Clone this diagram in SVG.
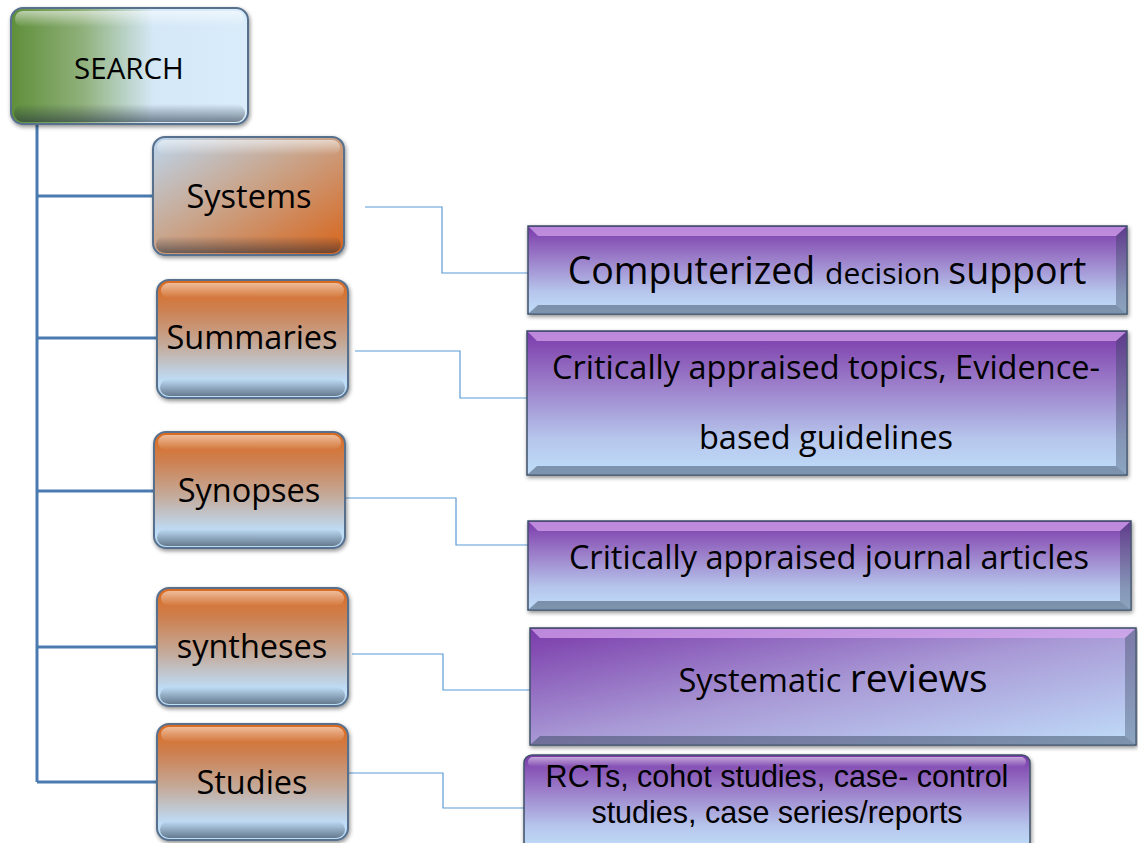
<svg xmlns="http://www.w3.org/2000/svg" width="1138" height="843" viewBox="0 0 1138 843">
<defs>
<linearGradient id="gGreen" x1="0" y1="0" x2="1" y2="0">
<stop offset="0" stop-color="#5f8f3a"/>
<stop offset="0.3" stop-color="#8fb07a"/>
<stop offset="0.6" stop-color="#d4e8f7"/>
<stop offset="1" stop-color="#d9ecfa"/>
</linearGradient>
<linearGradient id="gSys" x1="0" y1="0" x2="1" y2="1">
<stop offset="0" stop-color="#bcd6ee"/>
<stop offset="0.45" stop-color="#c9a58c"/>
<stop offset="1" stop-color="#d8641a"/>
</linearGradient>
<linearGradient id="gOrange" x1="0" y1="0" x2="0" y2="1">
<stop offset="0" stop-color="#dc6a1e"/>
<stop offset="0.25" stop-color="#cd8050"/>
<stop offset="0.55" stop-color="#c4aa9a"/>
<stop offset="0.85" stop-color="#bedcf6"/>
<stop offset="1" stop-color="#bcdcf6"/>
</linearGradient>
<linearGradient id="gPurple" x1="0" y1="0" x2="0" y2="1">
<stop offset="0" stop-color="#7a3aaa"/>
<stop offset="0.35" stop-color="#9a7ac8"/>
<stop offset="0.75" stop-color="#b6c6ec"/>
<stop offset="1" stop-color="#c0defa"/>
</linearGradient>
<linearGradient id="gPurpleDiag" x1="0" y1="0" x2="1" y2="1">
<stop offset="0" stop-color="#7a3aaa"/>
<stop offset="0.5" stop-color="#a99ad6"/>
<stop offset="1" stop-color="#c0defa"/>
</linearGradient>
<linearGradient id="gHi" x1="0" y1="0" x2="0" y2="1">
<stop offset="0" stop-color="#ffffff" stop-opacity="0.55"/>
<stop offset="1" stop-color="#ffffff" stop-opacity="0"/>
</linearGradient>
<linearGradient id="gLo" x1="0" y1="0" x2="0" y2="1">
<stop offset="0" stop-color="#1e2a3a" stop-opacity="0"/>
<stop offset="1" stop-color="#1e2a3a" stop-opacity="0.55"/>
</linearGradient>
<filter id="sh" x="-10%" y="-10%" width="120%" height="130%">
<feGaussianBlur in="SourceAlpha" stdDeviation="2"/>
<feOffset dx="1" dy="2" result="b"/>
<feComponentTransfer><feFuncA type="linear" slope="0.45"/></feComponentTransfer>
<feMerge><feMergeNode/><feMergeNode in="SourceGraphic"/></feMerge>
</filter>
</defs>
<style>
.node{stroke:#56708e;stroke-width:2;filter:url(#sh)}
.rbox{stroke:#3f5068;stroke-width:1.5;filter:url(#sh)}
.t{font-family:"Open Sans",Lato,sans-serif;fill:#000;text-anchor:middle}
.ts{font-family:"Liberation Sans",Arial,sans-serif;fill:#000;text-anchor:middle}
.trunk{stroke:#4a7ab0;stroke-width:3;fill:none}
.conn{stroke:#5b9bd5;stroke-width:1.2;fill:none}
</style>

<g id="connectors">
<path class="trunk" d="M37,124 V782"/>
<path class="trunk" d="M37,196 H153 M37,338 H157 M37,491 H154 M37,647 H157 M37,782 H157"/>
<path class="conn" d="M365,207 H442 V273 H528"/>
<path class="conn" d="M355,351 H460 V398 H527"/>
<path class="conn" d="M346,498 H456 V545 H528"/>
<path class="conn" d="M352,654 H443 V690 H530"/>
<path class="conn" d="M346,773 H443 V808 H524"/>
</g>

<g id="search">
<rect class="node" x="11" y="8" width="237" height="116" rx="12" fill="url(#gGreen)" stroke="#6b7a6a"/>
<rect x="15" y="11" width="229" height="16" rx="8" fill="url(#gHi)"/>
<rect x="14" y="104" width="231" height="18" rx="9" fill="url(#gLo)"/>
<text class="t" x="129" y="79" font-size="29.5">SEARCH</text>
</g>

<g id="systems">
<rect class="node" x="153" y="137" width="191" height="118" rx="12" fill="url(#gSys)" stroke="#6b8a6a"/>
<rect x="157" y="140" width="183" height="15" rx="8" fill="url(#gHi)"/>
<rect x="156" y="236" width="185" height="17" rx="9" fill="url(#gLo)"/>
<text class="t" x="249" y="208" font-size="32.5">Systems</text>
</g>

<g id="summaries">
<rect class="node" x="157" y="280" width="191" height="118" rx="12" fill="url(#gOrange)"/>
<rect x="161" y="283" width="183" height="15" rx="8" fill="url(#gHi)"/>
<rect x="160" y="379" width="185" height="17" rx="9" fill="url(#gLo)"/>
<text class="t" x="252" y="349" font-size="32.5">Summaries</text>
</g>

<g id="synopses">
<rect class="node" x="154" y="432" width="191" height="116" rx="12" fill="url(#gOrange)"/>
<rect x="158" y="435" width="183" height="15" rx="8" fill="url(#gHi)"/>
<rect x="157" y="529" width="185" height="17" rx="9" fill="url(#gLo)"/>
<text class="t" x="249" y="502" font-size="32.5">Synopses</text>
</g>

<g id="syntheses">
<rect class="node" x="157" y="588" width="191" height="118" rx="12" fill="url(#gOrange)"/>
<rect x="161" y="591" width="183" height="15" rx="8" fill="url(#gHi)"/>
<rect x="160" y="687" width="185" height="17" rx="9" fill="url(#gLo)"/>
<text class="t" x="252" y="658" font-size="32.5">syntheses</text>
</g>

<g id="studies">
<rect class="node" x="157" y="724" width="191" height="116" rx="12" fill="url(#gOrange)"/>
<rect x="161" y="727" width="183" height="15" rx="8" fill="url(#gHi)"/>
<rect x="160" y="821" width="185" height="17" rx="9" fill="url(#gLo)"/>
<text class="t" x="252" y="794" font-size="32.5">Studies</text>
</g>

<g id="computerized">
<rect class="rbox" x="528" y="226" width="599" height="88" fill="url(#gPurple)"/>
<polygon points="529,227 1126,227 1116,236 538,236" fill="#d9a8f0" opacity="0.7"/>
<polygon points="529,313 1126,313 1116,305 538,305" fill="#2c3c52" opacity="0.45"/>
<polygon points="1126,227 1126,313 1116,305 1116,236" fill="#2c3c52" opacity="0.35"/>
<text class="t" x="827" y="284"><tspan font-size="37.5">Computerized </tspan><tspan font-size="30">decision </tspan><tspan font-size="37.5">support</tspan></text>
</g>

<g id="critically-topics">
<rect class="rbox" x="527" y="331" width="600" height="144" fill="url(#gPurple)"/>
<polygon points="528,332 1126,332 1116,341 537,341" fill="#d9a8f0" opacity="0.7"/>
<polygon points="528,474 1126,474 1116,466 537,466" fill="#2c3c52" opacity="0.45"/>
<polygon points="1126,332 1126,474 1116,466 1116,341" fill="#2c3c52" opacity="0.35"/>
<text class="t" x="826" y="379" font-size="32.5">Critically appraised topics, Evidence-</text>
<text class="t" x="826" y="449" font-size="32.5">based guidelines</text>
</g>

<g id="critically-journal">
<rect class="rbox" x="528" y="521" width="603" height="89" fill="url(#gPurple)"/>
<polygon points="529,522 1130,522 1120,531 538,531" fill="#d9a8f0" opacity="0.7"/>
<polygon points="529,609 1130,609 1120,601 538,601" fill="#2c3c52" opacity="0.45"/>
<polygon points="1130,522 1130,609 1120,601 1120,531" fill="#2c3c52" opacity="0.35"/>
<text class="t" x="829" y="569" font-size="32.5">Critically appraised journal articles</text>
</g>

<g id="systematic">
<rect class="rbox" x="530" y="628" width="606" height="117" fill="url(#gPurpleDiag)"/>
<polygon points="531,629 1135,629 1125,638 540,638" fill="#d9a8f0" opacity="0.7"/>
<polygon points="531,744 1135,744 1125,736 540,736" fill="#2c3c52" opacity="0.45"/>
<polygon points="1135,629 1135,744 1125,736 1125,638" fill="#2c3c52" opacity="0.35"/>
<text class="t" x="833" y="692"><tspan font-size="32.5">Systematic </tspan><tspan font-size="39">reviews</tspan></text>
</g>

<g id="rcts">
<rect class="rbox" x="524" y="755" width="506" height="95" rx="8" fill="url(#gPurple)"/>
<rect x="528" y="757" width="498" height="10" rx="5" fill="url(#gHi)"/>
<text class="ts" font-size="30.5"><tspan x="777" y="787">RCTs, cohot studies, case- control</tspan><tspan x="777" y="823">studies, case series/reports</tspan></text>
</g>
</svg>
